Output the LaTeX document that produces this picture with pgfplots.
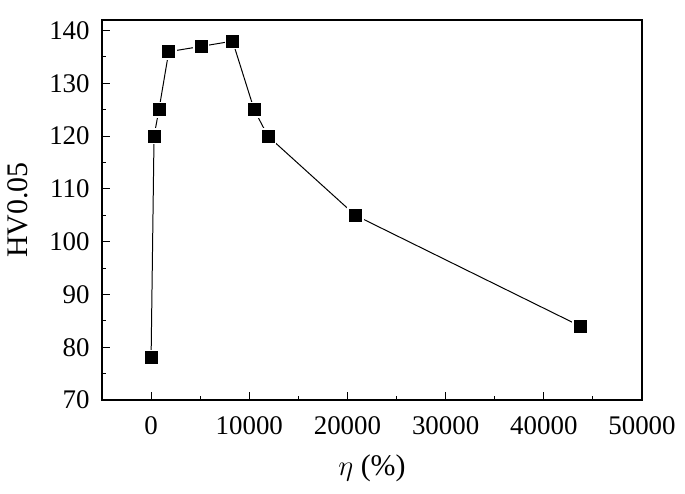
\documentclass[border=0pt]{standalone}
\usepackage{fontspec}
\setmainfont{Liberation Serif}
\usepackage{pgfplots}
\pgfplotsset{compat=1.18}
\usetikzlibrary{calc}

\begin{document}
\begin{tikzpicture}
  \begin{axis}[
    scale only axis,
    width=270bp, height=190bp,
    xmin=-5000, xmax=50000,
    ymin=70, ymax=142,
    xtick={0,10000,...,50000},
    ytick={70,80,...,140},
    minor tick num=1,
    tick align=inside,
    xtick pos=bottom, ytick pos=left,
    major tick length=4bp, minor tick length=2bp,
    scaled x ticks=false,
    xticklabel style={/pgf/number format/1000 sep={}, anchor=north, inner sep=0pt, yshift=-8bp},
    yticklabel style={anchor=east, inner sep=0pt, xshift=-6bp},
    /pgf/number format/assume math mode=true,
    tick label style={font=\fontsize{13.5}{15}\selectfont},
    label style={font=\fontsize{15}{17}\selectfont},
    xlabel={$\eta$ (\%)}, ylabel={HV0.05},
    xlabel style={at={(axis description cs:0.5,-0.18)}, anchor=center},
    ylabel style={at={(axis description cs:-0.1565,0.5)}, anchor=center, rotate=0},
    axis line style={line width=0.6pt},
    every tick/.style={black, line width=0.5pt},
  ]
    \addplot[black, line width=0.5pt, no marks] coordinates {
      (0,78) (300,120) (800,125) (1800,136) (5100,137) (8300,138)
      (10500,125) (11900,120) (20800,105) (43700,84)};
    \addplot[only marks, mark=square*, mark size=3.8bp, white] coordinates {
      (0,78) (300,120) (800,125) (1800,136) (5100,137) (8300,138)
      (10500,125) (11900,120) (20800,105) (43700,84)};
    \addplot[only marks, mark=square*, mark size=3bp, black] coordinates {
      (0,78) (300,120) (800,125) (1800,136) (5100,137) (8300,138)
      (10500,125) (11900,120) (20800,105) (43700,84)};
  \end{axis}
  \pgfresetboundingbox
  \path[use as bounding box] ($(current axis.south west)+(-51bp,-46.5bp)$)
    rectangle ($(current axis.north east)+(21.5bp,10bp)$);
\end{tikzpicture}
\end{document}
